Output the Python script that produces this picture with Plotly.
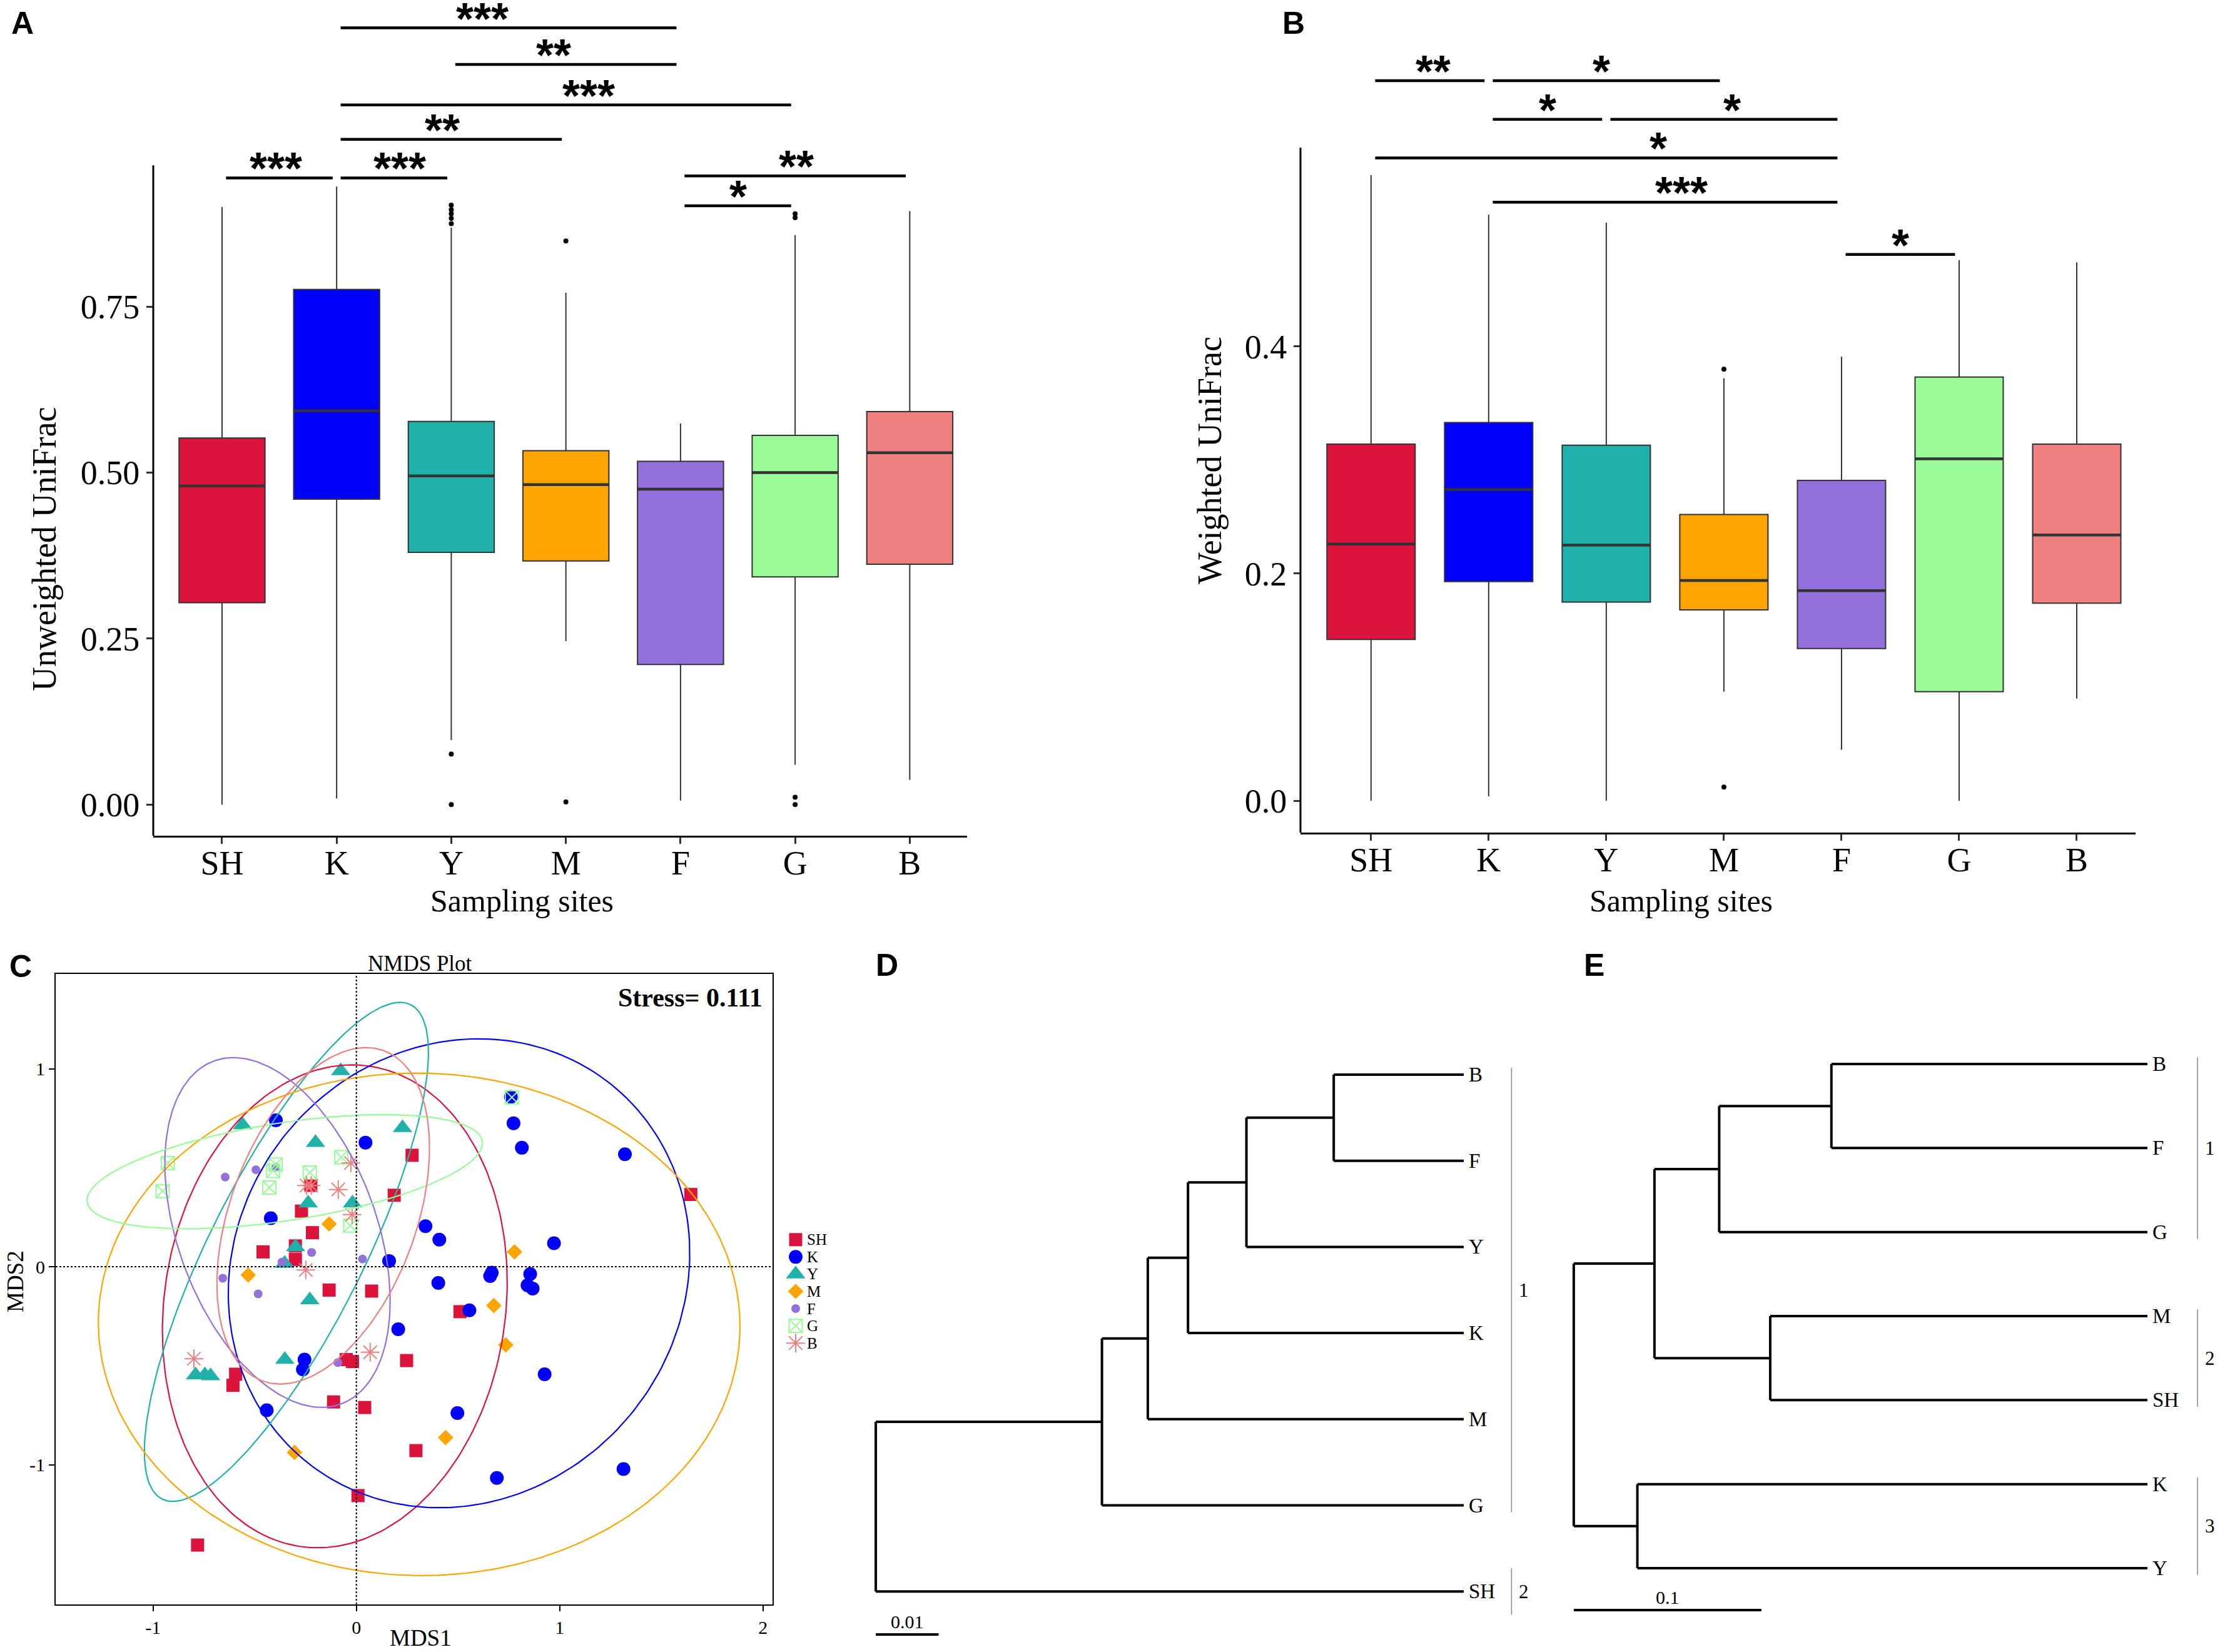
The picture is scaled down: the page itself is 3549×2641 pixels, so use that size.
import numpy as np
import plotly.graph_objects as go

W, H = 3549, 2641
SERIF = "Liberation Serif, Times New Roman, serif"
SANS = "Liberation Sans, Arial, sans-serif"

# ---------------------------------------------------------------- data
sites = ["SH", "K", "Y", "M", "F", "G", "B"]
site_colors = ["#DC143C", "#0000FF", "#20B2AA", "#FFA500", "#9370DB", "#98FB98", "#F08080"]

# Panel A - Unweighted UniFrac (box statistics)
a_low = [0.000, 0.009, 0.097, 0.246, 0.006, 0.060, 0.037]
a_q1 = [0.304, 0.460, 0.380, 0.367, 0.211, 0.343, 0.362]
a_med = [0.480, 0.593, 0.495, 0.482, 0.475, 0.500, 0.530]
a_q3 = [0.552, 0.776, 0.577, 0.533, 0.517, 0.556, 0.592]
a_high = [0.900, 0.931, 0.869, 0.771, 0.574, 0.858, 0.894]
a_out_site = ["Y", "Y", "Y", "Y", "Y", "Y", "Y", "M", "M", "G", "G", "G", "G"]
a_out_val = [0.903, 0.896, 0.890, 0.883, 0.875, 0.076, 0.000, 0.849, 0.004, 0.890, 0.884, 0.011, 0.000]
a_cmp_from = ["K", "Y", "K", "K", "SH", "K", "F", "F"]
a_cmp_to = ["F", "F", "G", "M", "K", "Y", "B", "G"]
a_cmp_level = [1.170, 1.115, 1.054, 1.002, 0.944, 0.944, 0.947, 0.902]
a_cmp_label = ["***", "**", "***", "**", "***", "***", "**", "*"]
a_cmp_label_pos = [2.27, 2.89, 3.20, 1.92, 0.47, 1.55, 5.01, 4.50]
a_yticks = [0.0, 0.25, 0.5, 0.75]
a_yticktext = ["0.00", "0.25", "0.50", "0.75"]

# Panel B - Weighted UniFrac (box statistics)
b_low = [0.000, 0.004, 0.000, 0.096, 0.045, 0.000, 0.090]
b_q1 = [0.142, 0.193, 0.175, 0.168, 0.134, 0.096, 0.174]
b_med = [0.226, 0.274, 0.225, 0.194, 0.185, 0.301, 0.234]
b_q3 = [0.314, 0.333, 0.313, 0.252, 0.282, 0.373, 0.314]
b_high = [0.551, 0.516, 0.509, 0.372, 0.391, 0.476, 0.474]
b_out_site = ["M", "M"]
b_out_val = [0.380, 0.012]
b_cmp_from = ["SH", "K", "K", "Y", "SH", "K", "F"]
b_cmp_to = ["K", "M", "Y", "F", "F", "F", "G"]
b_cmp_level = [0.634, 0.634, 0.600, 0.600, 0.566, 0.527, 0.481]
b_cmp_label = ["**", "*", "*", "*", "*", "***", "*"]
b_cmp_label_pos = [0.53, 1.96, 1.50, 3.07, 2.44, 2.64, 4.50]
b_yticks = [0.0, 0.2, 0.4]
b_yticktext = ["0.0", "0.2", "0.4"]

# Panel C - NMDS coordinates per site
c_sh_x = [0.274, 0.186, 1.645, -0.224, -0.270, -0.216, -0.459, -0.300, -0.300, -0.134, 0.075, 0.510,
          -0.594, -0.607, -0.050, -0.019, 0.247, -0.112, 0.041, 0.293, 0.008, -0.781]
c_sh_y = [0.563, 0.361, 0.365, 0.411, 0.281, 0.172, 0.075, 0.105, 0.037, -0.118, -0.123, -0.227,
          -0.543, -0.599, -0.469, -0.479, -0.474, -0.683, -0.711, -0.929, -1.156, -1.406]
c_k_x = [0.760, 0.773, 0.814, 1.321, -0.396, 0.045, -0.421, 0.340, 0.408, 0.972, 0.161, 0.666, 0.658,
         0.855, 0.842, 0.867, 0.403, 0.556, 0.206, -0.255, -0.263, 0.926, -0.441, 0.497, 0.691, 1.314]
c_k_y = [0.858, 0.725, 0.601, 0.568, 0.740, 0.627, 0.245, 0.205, 0.137, 0.119, 0.029, -0.030, -0.047,
         -0.037, -0.094, -0.110, -0.082, -0.220, -0.316, -0.469, -0.519, -0.543, -0.725, -0.739, -1.067, -1.022]
c_y_x = [-0.077, -0.560, 0.227, -0.201, -0.237, -0.019, -0.299, -0.353, -0.229, -0.352, -0.791, -0.745, -0.717]
c_y_y = [0.989, 0.716, 0.702, 0.627, 0.321, 0.321, 0.100, 0.016, -0.168, -0.469, -0.547, -0.547, -0.552]
c_m_x = [-0.134, -0.532, 0.778, 0.676, 0.735, 0.439, -0.304]
c_m_y = [0.216, -0.042, 0.075, -0.196, -0.395, -0.863, -0.938]
c_f_x = [-0.645, -0.494, -0.396, -0.220, -0.366, 0.030, -0.657, -0.483, -0.091]
c_f_y = [0.453, 0.490, 0.502, 0.072, 0.023, 0.039, -0.058, -0.137, -0.484]
c_g_x = [-0.927, -0.953, -0.397, -0.409, -0.428, -0.229, -0.074, -0.030, 0.765]
c_g_y = [0.524, 0.382, 0.516, 0.484, 0.400, 0.476, 0.553, 0.208, 0.856]
c_b_x = [-0.027, -0.245, -0.222, -0.089, -0.021, -0.249, -0.799, 0.068]
c_b_y = [0.524, 0.410, 0.410, 0.390, 0.263, -0.016, -0.465, -0.432]
# ellipse parameters per site (centre, semi-axes, rotation in degrees)
ell_cx = [-0.106, 0.505, -0.344, 0.309, -0.388, -0.352, -0.163]
ell_cy = [-0.200, -0.033, 0.075, -0.291, 0.173, 0.480, 0.257]
ell_a = [1.225, 1.214, 1.390, 1.578, 0.921, 0.984, 0.886]
ell_b = [0.840, 1.103, 0.380, 1.269, 0.489, 0.247, 0.459]
ell_theta = [82.5, 58.2, 64.0, -1.0, 109.5, 9.0, 70.7]
c_xticks = [-1, 0, 1, 2]
c_yticks = [-1, 0, 1]
c_stress = 0.111

# Panel D - dendrogram
d_leaves = ["B", "F", "Y", "K", "M", "G", "SH"]
d_merge_left = ["B", "n1", "n2", "n3", "n4", "n5"]
d_merge_right = ["F", "Y", "K", "M", "G", "SH"]
d_merge_height = [0.0207, 0.0346, 0.0439, 0.0503, 0.0576, 0.0936]
d_cluster_name = ["1", "2"]
d_cluster_first = ["B", "SH"]
d_cluster_last = ["G", "SH"]
d_scale = 0.01

# Panel E - dendrogram
e_leaves = ["B", "F", "G", "M", "SH", "K", "Y"]
e_merge_left = ["B", "n1", "M", "n2", "K", "n4"]
e_merge_right = ["F", "G", "SH", "n3", "Y", "n5"]
e_merge_height = [0.1684, 0.2282, 0.2010, 0.2627, 0.2718, 0.3057]
e_cluster_name = ["1", "2", "3"]
e_cluster_first = ["B", "M", "K"]
e_cluster_last = ["G", "SH", "Y"]
e_scale = 0.1

# ---------------------------------------------------------------- helpers
def PX(p):
    return p / W


def PY(p):
    return 1 - p / H


fig = go.Figure()
annotations = []
shapes = []


def add_text(x, y, text, size, family=SERIF, angle=0, xanchor="center", yanchor="middle",
             xref="paper", yref="paper", xshift=0, yshift=0, color="black"):
    annotations.append(dict(x=x, y=y, xref=xref, yref=yref, text=text, showarrow=False,
                            textangle=angle, xanchor=xanchor, yanchor=yanchor,
                            xshift=xshift, yshift=yshift,
                            font=dict(family=family, size=size, color=color)))


def box_panel(n, low, q1, med, q3, high, out_site, out_val, cf, ct, cl, clab, cpos, ymin, axis_top):
    xa = "x" if n == 1 else "x%d" % n
    ya = "y" if n == 1 else "y%d" % n
    for i, s in enumerate(sites):
        fig.add_trace(go.Box(x=[i], q1=[q1[i]], median=[med[i]], q3=[q3[i]],
                             lowerfence=[low[i]], upperfence=[high[i]],
                             width=0.75, fillcolor=site_colors[i],
                             line=dict(color="#333333", width=2),
                             whiskerwidth=0, boxpoints=False,
                             xaxis=xa, yaxis=ya, showlegend=False, hoverinfo="skip"))
    mx, my = [], []
    for i, m in enumerate(med):
        mx += [i - 0.375, i + 0.375, None]
        my += [m, m, None]
    fig.add_trace(go.Scatter(x=mx, y=my, mode="lines", line=dict(color="#333333", width=4.5),
                             xaxis=xa, yaxis=ya, showlegend=False, hoverinfo="skip"))
    fig.add_trace(go.Scatter(x=[sites.index(s) for s in out_site], y=out_val, mode="markers",
                             marker=dict(color="black", size=8), xaxis=xa, yaxis=ya,
                             showlegend=False, hoverinfo="skip"))
    sx, sy = [], []
    for f, t, lv, lab, px in zip(cf, ct, cl, clab, cpos):
        i0, i1 = sites.index(f), sites.index(t)
        sx += [i0 + 0.035, i1 - 0.035, None]
        sy += [lv, lv, None]
        add_text(px, lv, "<b>%s</b>" % lab, 72, family=SANS, xref=xa, yref=ya, yshift=15)
    fig.add_trace(go.Scatter(x=sx, y=sy, mode="lines", line=dict(color="black", width=4.5),
                             xaxis=xa, yaxis=ya, showlegend=False, hoverinfo="skip"))
    shapes.append(dict(type="line", xref=xa + " domain", x0=0, x1=0, yref=ya, y0=ymin, y1=axis_top,
                       line=dict(color="black", width=3), layer="above"))


def box_axes(xdom, ydom, yrange, tv, tt):
    tf = dict(family=SERIF, size=54, color="black")
    xa = dict(domain=xdom, range=[-0.6, 6.5], tickvals=list(range(len(sites))), ticktext=sites,
              showline=True, linecolor="black", linewidth=3, ticks="outside", ticklen=10,
              tickwidth=2.5, tickcolor="#333333", tickfont=tf, showgrid=False, zeroline=False,
              ticklabelstandoff=-16)
    ya = dict(domain=ydom, range=yrange, tickvals=tv, ticktext=tt, showline=False,
              ticks="outside", ticklen=10, tickwidth=2.5, tickcolor="#333333", tickfont=tf,
              showgrid=False, zeroline=False)
    return xa, ya


# ---------------------------------------------------------------- panel A / B
box_panel(1, a_low, a_q1, a_med, a_q3, a_high, a_out_site, a_out_val,
          a_cmp_from, a_cmp_to, a_cmp_level, a_cmp_label, a_cmp_label_pos, -0.047, 0.963)
box_panel(2, b_low, b_q1, b_med, b_q3, b_high, b_out_site, b_out_val,
          b_cmp_from, b_cmp_to, b_cmp_level, b_cmp_label, b_cmp_label_pos, -0.028, 0.575)
ax1x, ax1y = box_axes([PX(245), PX(1546)], [PY(1336), 1], [-0.047, 1.212], a_yticks, a_yticktext)
ax2x, ax2y = box_axes([PX(2079), PX(3414)], [PY(1331), 1], [-0.028, 0.705], b_yticks, b_yticktext)
ax1x["anchor"] = "y"
ax1y["anchor"] = "x"
ax2x["anchor"] = "y2"
ax2y["anchor"] = "x2"

add_text(PX(71), PY(878), "Unweighted UniFrac", 54, angle=-90)
add_text(PX(834), PY(1440), "Sampling sites", 50)
add_text(PX(1934), PY(736), "Weighted UniFrac", 54, angle=-90)
add_text(PX(2687), PY(1440), "Sampling sites", 50)

# ---------------------------------------------------------------- panel C
c_x = [c_sh_x, c_k_x, c_y_x, c_m_x, c_f_x, c_g_x, c_b_x]
c_y = [c_sh_y, c_k_y, c_y_y, c_m_y, c_f_y, c_g_y, c_b_y]
c_symbols = ["square", "circle", "triangle-up", "diamond", "circle", "square-x-open", "asterisk-open"]
c_sizes = [21, 22, 27, 19, 14, 21, 25]
c_linew = [0, 0, 0, 0, 0, 2, 2]


def marker_style(i):
    return dict(symbol=c_symbols[i], size=c_sizes[i], color=site_colors[i],
                line=dict(color=site_colors[i], width=c_linew[i]))


for i in range(len(sites)):
    fig.add_trace(go.Scatter(x=c_x[i], y=c_y[i], mode="markers", marker=marker_style(i),
                             xaxis="x3", yaxis="y3", showlegend=False, hoverinfo="skip"))
t = np.linspace(0, 2 * np.pi, 240)
for i in range(len(sites)):
    th = np.deg2rad(ell_theta[i])
    ex = ell_cx[i] + ell_a[i] * np.cos(t) * np.cos(th) - ell_b[i] * np.sin(t) * np.sin(th)
    ey = ell_cy[i] + ell_a[i] * np.cos(t) * np.sin(th) + ell_b[i] * np.sin(t) * np.cos(th)
    fig.add_trace(go.Scatter(x=ex, y=ey, mode="lines", line=dict(color=site_colors[i], width=2.2),
                             xaxis="x3", yaxis="y3", showlegend=False, hoverinfo="skip"))

shapes.append(dict(type="line", xref="x3", x0=0, x1=0, yref="y3 domain", y0=0, y1=1,
                   line=dict(color="black", width=2, dash="dot")))
shapes.append(dict(type="line", yref="y3", y0=0, y1=0, xref="x3 domain", x0=0, x1=1,
                   line=dict(color="black", width=2, dash="dot")))

ctf = dict(family=SERIF, size=30, color="black")
ax3x = dict(domain=[PX(89), PX(1235)], range=[-1.479, 2.047], tickvals=c_xticks,
            ticktext=[str(v) for v in c_xticks], anchor="y3", showline=True, mirror=True,
            linecolor="black", linewidth=2, ticks="outside", ticklen=9, tickwidth=2,
            tickcolor="black", tickfont=ctf, showgrid=False, zeroline=False)
ax3y = dict(domain=[PY(2565), PY(1557)], range=[-1.706, 1.479], tickvals=c_yticks,
            ticktext=[str(v) for v in c_yticks], anchor="x3", showline=True, mirror=True,
            linecolor="black", linewidth=2, ticks="outside", ticklen=9, tickwidth=2,
            tickcolor="black", tickfont=ctf, showgrid=False, zeroline=False)
add_text(PX(671), PY(1540), "NMDS Plot", 35)
add_text(PX(1221), PY(1595), "<b>Stress= %.3f</b>" % c_stress, 42, xanchor="right")
add_text(PX(672), PY(2618), "MDS1", 37)
add_text(PX(24), PY(2049), "MDS2", 37, angle=-90)

# legend for C (own hidden axes)
for i, s in enumerate(sites):
    fig.add_trace(go.Scatter(x=[0], y=[i], mode="markers", marker=marker_style(i),
                             xaxis="x6", yaxis="y6", showlegend=False, hoverinfo="skip",
                             cliponaxis=False))
    add_text(0, i, s, 25, xref="x6", yref="y6", xanchor="left", xshift=16)
ax6x = dict(domain=[PX(1262), PX(1282)], range=[-1, 1], visible=False, anchor="y6")
ax6y = dict(domain=[PY(2161), PY(1968)], range=[len(sites) - 0.5, -0.5], visible=False, anchor="x6")


# ---------------------------------------------------------------- panels D / E
def tree(n, leaves, ml, mr, mh, cname, cfirst, clast, scale, bar_x):
    xa, ya = "x%d" % n, "y%d" % n
    ypos = {name: float(i) for i, name in enumerate(leaves)}
    xpos = {name: 0.0 for name in leaves}
    lx, ly = [], []
    for k, (l, r, h) in enumerate(zip(ml, mr, mh)):
        node = "n%d" % (k + 1)
        yl, yr = ypos[l], ypos[r]
        lx += [xpos[l], h, None, xpos[r], h, None, h, h, None]
        ly += [yl, yl, None, yr, yr, None, yl, yr, None]
        ypos[node] = (yl + yr) / 2
        xpos[node] = h
    root = mh[-1]
    sb_y = len(leaves) - 0.5
    lx += [root, root - scale, None]
    ly += [sb_y, sb_y, None]
    fig.add_trace(go.Scatter(x=lx, y=ly, mode="lines", line=dict(color="black", width=4),
                             xaxis=xa, yaxis=ya, showlegend=False, hoverinfo="skip"))
    add_text(root - scale / 2, sb_y, str(scale), 30, xref=xa, yref=ya, yanchor="bottom", yshift=2)
    for name in leaves:
        add_text(0, ypos[name], name, 33, xref=xa, yref=ya, xanchor="left", xshift=6)
    cx, cy = [], []
    for nm, f, l in zip(cname, cfirst, clast):
        y0, y1 = ypos[f], ypos[l]
        pad = 0.27 if f == l else 0.08
        cx += [bar_x, bar_x, None]
        cy += [y0 - pad, y1 + pad, None]
        add_text(bar_x, (y0 + y1) / 2, nm, 31, xref=xa, yref=ya, xanchor="left", xshift=10)
    fig.add_trace(go.Scatter(x=cx, y=cy, mode="lines", line=dict(color="#8c8c8c", width=1.6),
                             xaxis=xa, yaxis=ya, showlegend=False, hoverinfo="skip"))


tree(4, d_leaves, d_merge_left, d_merge_right, d_merge_height, d_cluster_name,
     d_cluster_first, d_cluster_last, d_scale, -0.0076)
tree(5, e_leaves, e_merge_left, e_merge_right, e_merge_height, e_cluster_name,
     e_cluster_first, e_cluster_last, e_scale, -0.0267)
ax4x = dict(domain=[PX(1380), PX(2560)], range=[0.0956, -0.0219], visible=False, anchor="y4")
ax4y = dict(domain=[PY(2630), PY(1650)], range=[6.623, -0.494], visible=False, anchor="x4")
ax5x = dict(domain=[PX(2500), 1.0], range=[0.3110, -0.0387], visible=False, anchor="y5")
ax5y = dict(domain=[PY(2630), PY(1650)], range=[6.916, -0.380], visible=False, anchor="x5")

# ---------------------------------------------------------------- panel letters
for lab, x, y in [("A", 36, 37), ("B", 2068, 37), ("C", 33, 1545), ("D", 1418, 1543), ("E", 2548, 1543)]:
    add_text(PX(x), PY(y), "<b>%s</b>" % lab, 50, family=SANS)

fig.update_layout(
    width=W, height=H, margin=dict(l=0, r=0, t=0, b=0, pad=0),
    paper_bgcolor="white", plot_bgcolor="white", showlegend=False,
    font=dict(family=SERIF, color="black"),
    xaxis=ax1x, yaxis=ax1y, xaxis2=ax2x, yaxis2=ax2y, xaxis3=ax3x, yaxis3=ax3y,
    xaxis4=ax4x, yaxis4=ax4y, xaxis5=ax5x, yaxis5=ax5y, xaxis6=ax6x, yaxis6=ax6y,
    annotations=annotations, shapes=shapes,
)

fig.write_html("out.html", config={"displayModeBar": False},
               post_script="document.body.style.margin='0';")
